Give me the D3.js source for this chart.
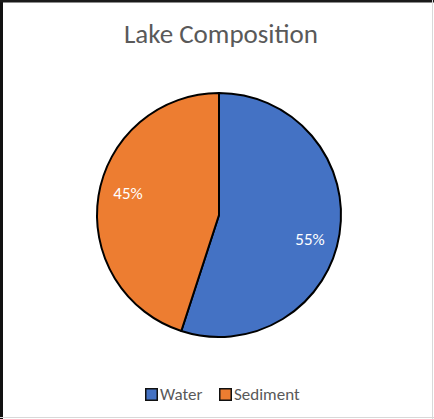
<!DOCTYPE html>
<html>
<head>
<meta charset="utf-8">
<script src="https://cdn.jsdelivr.net/npm/d3@7"></script>
<style>
html,body{margin:0;padding:0;background:#fff;}
svg{display:block;}
</style>
</head>
<body>
<svg id="chart" width="434" height="419"></svg>
<script>
const categories = ["Water", "Sediment"];
const values = [55, 45];
const labels = ["55%", "45%"];
const colors = ["#4472C4", "#ED7D31"];
const title = "Lake Composition";

const W = 434, H = 419;
const svg = d3.select("#chart");
const font = "Calibri, Carlito, 'Open Sans', 'Noto Sans', sans-serif";

// background & frame
svg.append("rect").attr("x",0).attr("y",0).attr("width",W).attr("height",H).attr("fill","#fff");
svg.append("rect").attr("x",0).attr("y",0).attr("width",3).attr("height",H).attr("fill","#111");
svg.append("rect").attr("x",0).attr("y",0).attr("width",W).attr("height",2.5).attr("fill","#1a1a1a");
svg.append("rect").attr("x",W-2).attr("y",0).attr("width",1).attr("height",H).attr("fill","#d8d8d8");
svg.append("rect").attr("x",0).attr("y",H-2).attr("width",W).attr("height",1).attr("fill","#d8d8d8");

// title
svg.append("text")
  .attr("x", 221).attr("y", 43)
  .attr("text-anchor","middle")
  .attr("font-family", font)
  .attr("font-size", 27)
  .attr("fill","#595959")
  .text(title);

// pie
const cx = 219, cy = 215, r = 122;
const color = d3.scaleOrdinal().domain(categories).range(colors);
const pie = d3.pie().sort(null).value(d => d.v);
const data = categories.map((c,i) => ({c, v: values[i], l: labels[i]}));
const arcs = pie(data);
const arc = d3.arc().innerRadius(0).outerRadius(r);
const labelArc = d3.arc().innerRadius(r*0.755).outerRadius(r*0.755);

const g = svg.append("g").attr("transform", `translate(${cx},${cy})`);
g.selectAll("path.slice").data(arcs).enter().append("path")
  .attr("class","slice")
  .attr("d", arc)
  .attr("fill", d => color(d.data.c))
  .attr("stroke", "#000")
  .attr("stroke-width", 2)
  .attr("stroke-linejoin","round");

g.selectAll("text.lbl").data(arcs).enter().append("text")
  .attr("class","lbl")
  .attr("transform", d => {
    const [x,y] = labelArc.centroid(d);
    const shift = d.index === 0 ? 10 : -8;
    return `translate(${x},${y + shift})`;
  })
  .attr("dy", "0.35em")
  .attr("text-anchor","middle")
  .attr("font-family", font)
  .attr("font-size", 17)
  .attr("fill","#fff")
  .text(d => d.data.l);

// legend
const legend = svg.append("g");
const items = [{x:145},{x:219}];
categories.forEach((c,i) => {
  const lg = legend.append("g").attr("transform", `translate(${items[i].x},388)`);
  lg.append("rect").attr("x",0.75).attr("y",0.75).attr("width",11.5).attr("height",11.5)
    .attr("fill", color(c)).attr("stroke","#111").attr("stroke-width",1.5);
  lg.append("text").attr("x",15).attr("y",12)
    .attr("font-family", font).attr("font-size",17).attr("fill","#595959").text(c);
});
</script>
</body>
</html>
